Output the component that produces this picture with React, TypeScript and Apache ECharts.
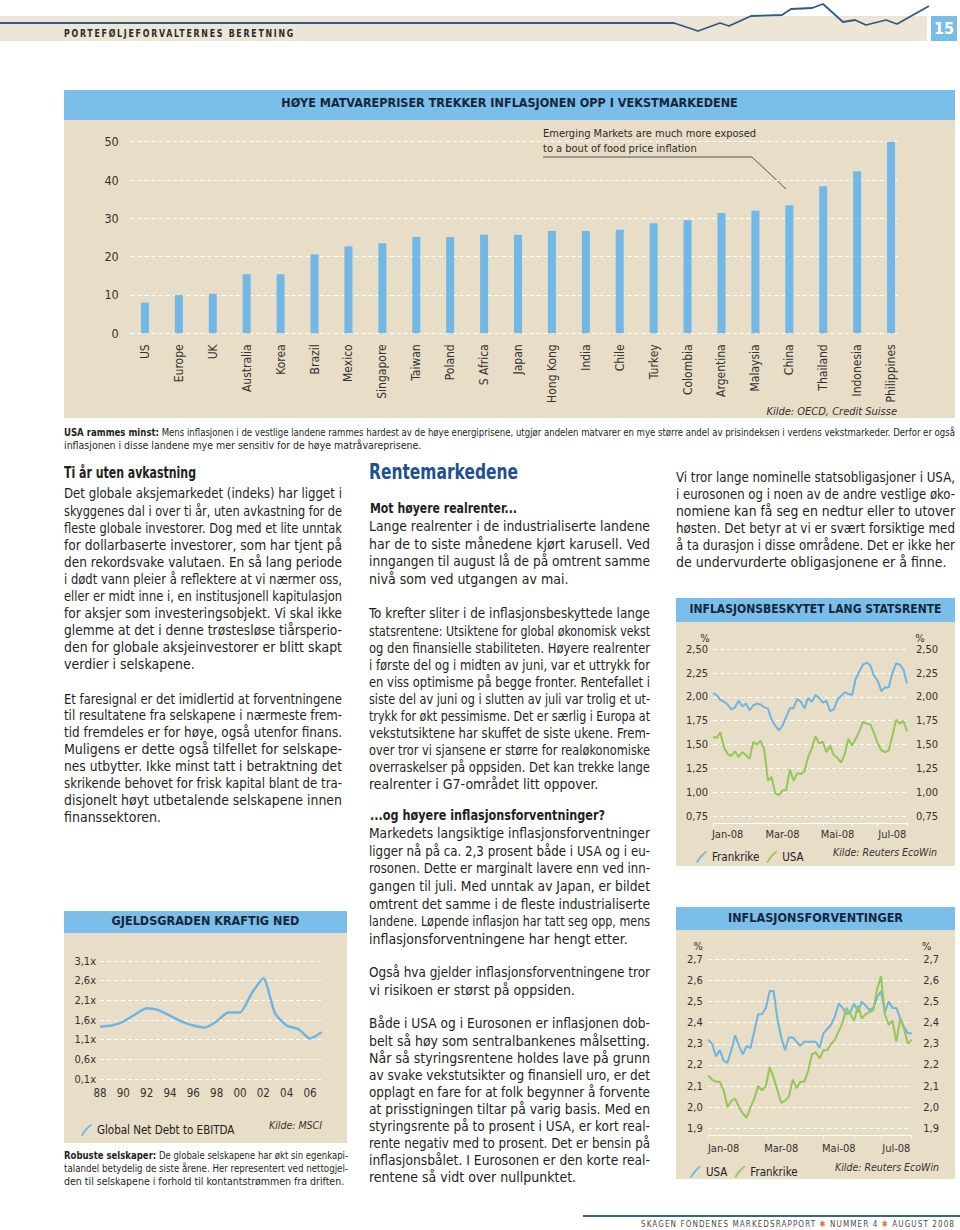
import React, { useEffect, useLayoutEffect, useRef } from "react";
import * as echarts from "echarts";

const FONT = '"Liberation Sans Narrow", "DejaVu Sans Condensed", "Open Sans", sans-serif';
const INK = "#231f20";
const BEIGE = "#E8DDC6";
const BAR_BLUE = "#7BBEE9";
const LINE_BLUE = "#6DB5E5";
const LINE_GREEN = "#93C75A";
const NAVY = "#17263a";

// ---------- data ----------
const countries = ["US", "Europe", "UK", "Australia", "Korea", "Brazil", "Mexico", "Singapore", "Taiwan", "Poland", "S Africa", "Japan", "Hong Kong", "India", "Chile", "Turkey", "Colombia", "Argentina", "Malaysia", "China", "Thailand", "Indonesia", "Philippines"];
const foodShare = [8.0, 10.0, 10.3, 15.4, 15.4, 20.6, 22.7, 23.5, 25.1, 25.1, 25.7, 25.7, 26.7, 26.7, 27.0, 28.7, 29.5, 31.4, 32.0, 33.4, 38.4, 42.3, 50.0];
const foodTicks = [0, 10, 20, 30, 40, 50];

const debtYears = ["88", "89", "90", "91", "92", "93", "94", "95", "96", "97", "98", "99", "00", "01", "02", "03", "04", "05", "06", "07"];
const debtToEbitda = [1.43, 1.46, 1.56, 1.74, 1.9, 1.85, 1.71, 1.56, 1.46, 1.41, 1.57, 1.79, 1.79, 2.28, 2.66, 1.77, 1.46, 1.37, 1.13, 1.29];

// 2008 sample dates, every 4 days from 1 Jan to 31 Jul
const sampleDates: string[] = [];
for (let k = 0; k < 54; k++) {
  const d = new Date(Date.UTC(2008, 0, 1 + k * 4));
  sampleDates.push(d.toISOString().slice(0, 10));
}
const monthLabels = ["Jan-08", "Mar-08", "Mai-08", "Jul-08"];
const monthLabelIdx = [4, 19, 34, 49];
const monthTickIdx = [0, 8, 15, 23, 30, 38, 45, 53];

const realFrance = [2.04, 2.02, 1.97, 1.95, 1.92, 1.87, 1.89, 1.96, 1.9, 1.93, 1.86, 1.91, 1.93, 1.92, 1.89, 1.88, 1.76, 1.7, 1.65, 1.7, 1.79, 1.88, 1.88, 1.98, 1.95, 1.88, 1.99, 1.95, 2.02, 1.99, 1.94, 1.96, 1.85, 1.87, 1.97, 2.01, 2.05, 2.03, 2.02, 2.19, 2.27, 2.34, 2.36, 2.33, 2.22, 2.17, 2.06, 2.1, 2.1, 2.25, 2.35, 2.34, 2.29, 2.14];
const realUSA = [1.58, 1.57, 1.63, 1.47, 1.4, 1.38, 1.43, 1.37, 1.42, 1.39, 1.35, 1.53, 1.5, 1.54, 1.45, 1.12, 1.16, 0.99, 0.97, 1.02, 1.02, 1.24, 1.12, 1.2, 1.19, 1.22, 1.37, 1.46, 1.59, 1.51, 1.53, 1.42, 1.49, 1.39, 1.36, 1.31, 1.4, 1.56, 1.49, 1.56, 1.64, 1.74, 1.72, 1.71, 1.62, 1.51, 1.44, 1.42, 1.44, 1.59, 1.76, 1.72, 1.75, 1.64];

const expUSA = [2.32, 2.3, 2.24, 2.27, 2.22, 2.21, 2.27, 2.34, 2.29, 2.25, 2.29, 2.28, 2.36, 2.44, 2.44, 2.47, 2.55, 2.55, 2.42, 2.33, 2.27, 2.33, 2.33, 2.31, 2.29, 2.31, 2.31, 2.31, 2.31, 2.28, 2.35, 2.37, 2.39, 2.43, 2.49, 2.47, 2.44, 2.45, 2.49, 2.45, 2.5, 2.48, 2.46, 2.47, 2.52, 2.55, 2.45, 2.5, 2.47, 2.47, 2.42, 2.38, 2.35, 2.35];
const expFrance = [2.15, 2.13, 2.12, 2.12, 2.08, 2.0, 2.03, 2.04, 2.0, 1.97, 1.95, 2.0, 2.04, 2.1, 2.08, 2.1, 2.19, 2.14, 2.08, 2.02, 2.03, 2.05, 2.13, 2.09, 2.12, 2.12, 2.17, 2.25, 2.26, 2.23, 2.27, 2.27, 2.3, 2.32, 2.36, 2.4, 2.47, 2.44, 2.41, 2.48, 2.42, 2.44, 2.45, 2.46, 2.56, 2.62, 2.44, 2.39, 2.41, 2.31, 2.42, 2.37, 2.3, 2.32];

// decorative header trend line (position along band, level)
const headerTrendX = [0, 674, 698, 720, 729, 751, 782, 791, 812, 823, 843, 855, 866, 886, 897, 929];
const headerTrendY = [23, 23, 31, 23, 26, 16, 15, 9, 8, 4, 22, 20, 25, 20, 24, 6];

// ---------- text ----------
const col1Title = "Ti år uten avkastning";
const col1P1 = [
  "Det globale aksjemarkedet (indeks) har ligget i",
  "skyggenes dal i over ti år, uten avkastning for de",
  "fleste globale investorer. Dog med et lite unntak",
  "for dollarbaserte investorer, som har tjent på",
  "den rekordsvake valutaen. En så lang periode",
  "i dødt vann pleier å reflektere at vi nærmer oss,",
  "eller er midt inne i, en institusjonell kapitulasjon",
  "for aksjer som investeringsobjekt. Vi skal ikke",
  "glemme at det i denne trøstesløse tiårsperio-",
  "den for globale aksjeinvestorer er blitt skapt",
  "verdier i selskapene.",
];
const col1P2 = [
  "Et faresignal er det imidlertid at forventningene",
  "til resultatene fra selskapene i nærmeste frem-",
  "tid fremdeles er for høye, også utenfor finans.",
  "Muligens er dette også tilfellet for selskape-",
  "nes utbytter. Ikke minst tatt i betraktning det",
  "skrikende behovet for frisk kapital blant de tra-",
  "disjonelt høyt utbetalende selskapene innen",
  "finanssektoren.",
];
const col2PA = [
  "Lange realrenter i de industrialiserte landene",
  "har de to siste månedene kjørt karusell. Ved",
  "inngangen til august lå de på omtrent samme",
  "nivå som ved utgangen av mai.",
];
const col2PB = [
  "To krefter sliter i de inflasjonsbeskyttede lange",
  "statsrentene: Utsiktene for global økonomisk vekst",
  "og den finansielle stabiliteten. Høyere realrenter",
  "i første del og i midten av juni, var et uttrykk for",
  "en viss optimisme på begge fronter. Rentefallet i",
  "siste del av juni og i slutten av juli var trolig et ut-",
  "trykk for økt pessimisme. Det er særlig i Europa at",
  "vekstutsiktene har skuffet de siste ukene. Frem-",
  "over tror vi sjansene er større for realøkonomiske",
  "overraskelser på oppsiden. Det kan trekke lange",
  "realrenter i G7-området litt oppover.",
];
const col2PC = [
  "Markedets langsiktige inflasjonsforventninger",
  "ligger nå på ca. 2,3 prosent både i USA og i eu-",
  "rosonen. Dette er marginalt lavere enn ved inn-",
  "gangen til juli. Med unntak av Japan, er bildet",
  "omtrent det samme i de fleste industrialiserte",
  "landene. Løpende inflasjon har tatt seg opp, mens",
  "inflasjonsforventningene har hengt etter.",
];
const col2PD = [
  "Også hva gjelder inflasjonsforventningene tror",
  "vi risikoen er størst på oppsiden.",
];
const col2PE = [
  "Både i USA og i Eurosonen er inflasjonen dob-",
  "belt så høy som sentralbankenes målsetting.",
  "Når så styringsrentene holdes lave på grunn",
  "av svake vekstutsikter og finansiell uro, er det",
  "opplagt en fare for at folk begynner å forvente",
  "at prisstigningen tiltar på varig basis. Med en",
  "styringsrente på to prosent i USA, er kort real-",
  "rente negativ med to prosent. Det er bensin på",
  "inflasjonsbålet. I Eurosonen er den korte real-",
  "rentene så vidt over nullpunktet.",
];
const col3P = [
  "Vi tror lange nominelle statsobligasjoner i USA,",
  "i eurosonen og i noen av de andre vestlige øko-",
  "nomiene kan få seg en nedtur eller to utover",
  "høsten. Det betyr at vi er svært forsiktige med",
  "å ta durasjon i disse områdene. Det er ikke her",
  "de undervurderte obligasjonene er å finne.",
];

// ---------- chart options ----------
const axisLabelStyle = { color: "#333", fontFamily: FONT };

const headerOption = {
  animation: false,
  grid: { left: 0, right: 0, top: 0, bottom: 0 },
  xAxis: { type: "value", min: 0, max: 935, show: false },
  yAxis: { type: "value", min: 0, max: 45, inverse: true, show: false },
  series: [
    {
      type: "line",
      data: headerTrendX.map((x, i) => [x, headerTrendY[i]]),
      showSymbol: false,
      lineStyle: { color: "#2E5A86", width: 1.8 },
    },
  ],
};

const mainOption = {
  animation: false,
  backgroundColor: BEIGE,
  textStyle: { fontFamily: FONT },
  title: {
    text: "HØYE MATVAREPRISER TREKKER INFLASJONEN OPP I VEKSTMARKEDENE",
    left: "center",
    top: 6,
    padding: 0,
    z: 10,
    textStyle: { fontSize: 12.5, fontWeight: "bold", color: NAVY, fontFamily: FONT },
  },
  graphic: [
    { type: "rect", z: 0, shape: { x: 0, y: 0, width: 891, height: 30 }, style: { fill: BAR_BLUE } },
    {
      type: "text",
      x: 479,
      y: 43,
      style: { text: "Emerging Markets are much more exposed", font: `11px ${FONT}`, fill: "#2b2b2b", textVerticalAlign: "middle" },
    },
    {
      type: "text",
      x: 479,
      y: 58,
      style: { text: "to a bout of food price inflation", font: `11px ${FONT}`, fill: "#2b2b2b", textVerticalAlign: "middle" },
    },
    {
      type: "polyline",
      shape: { points: [[479, 67], [688, 67], [722, 99]] },
      style: { stroke: "#333", lineWidth: 0.8, fill: null },
    },
    {
      type: "text",
      x: 833,
      y: 321,
      style: { text: "Kilde: OECD, Credit Suisse", font: `italic 11px ${FONT}`, fill: "#333", textAlign: "right", textVerticalAlign: "middle" },
    },
  ],
  grid: [
    { left: 66.7, right: 55, top: 51.7, bottom: 84.7 },
    { left: 64, right: 47, top: 51.7, bottom: 84.7 },
  ],
  xAxis: [
    { gridIndex: 0, type: "category", data: countries, show: false },
    {
      gridIndex: 1,
      type: "category",
      data: countries,
      axisLine: { show: false },
      axisTick: { show: false },
      axisLabel: { ...axisLabelStyle, rotate: 90, margin: 11, fontSize: 12, interval: 0 },
    },
  ],
  yAxis: [
    {
      gridIndex: 0,
      type: "value",
      min: foodTicks[0],
      max: foodTicks[foodTicks.length - 1],
      interval: 10,
      axisLine: { show: false },
      axisTick: { show: false },
      axisLabel: { ...axisLabelStyle, fontSize: 12.5, margin: 12 },
      splitLine: { lineStyle: { color: "#ffffff", width: 1, type: [4, 3] } },
    },
    { gridIndex: 1, type: "value", min: 0, max: 50, show: false, splitLine: { show: false } },
  ],
  series: [
    {
      type: "bar",
      xAxisIndex: 1,
      yAxisIndex: 1,
      data: foodShare,
      barWidth: 8,
      itemStyle: { color: "#72B8E7" },
    },
  ],
};

const SWOOSH = "path://M1,21 C5,13 11,6 19,0 L21,2 C14,8 8,15 4,22 Z";

function lineChartOption(cfg: any) {
  return {
    animation: false,
    backgroundColor: BEIGE,
    textStyle: { fontFamily: FONT },
    title: {
      text: cfg.title,
      left: "center",
      top: cfg.titleTop,
      padding: 0,
      z: 10,
      textStyle: { fontSize: cfg.titleSize, fontWeight: "bold", color: NAVY, fontFamily: FONT },
    },
    graphic: [
      { type: "rect", z: 0, shape: { x: 0, y: 0, width: cfg.width, height: cfg.barH }, style: { fill: BAR_BLUE } },
      ...(cfg.pct || []).map((p: number[]) => ({
        type: "text",
        x: p[0],
        y: p[1],
        style: { text: "%", font: `11px ${FONT}`, fill: "#333", textAlign: "center", textVerticalAlign: "middle" },
      })),
      {
        type: "text",
        x: cfg.kildeX,
        y: cfg.legendY,
        style: { text: cfg.kilde, font: `italic 10.5px ${FONT}`, fill: "#333", textAlign: "right", textVerticalAlign: "middle" },
      },
    ],
    legend: {
      left: cfg.legendLeft,
      top: cfg.legendY - 6,
      icon: SWOOSH,
      itemWidth: 11,
      itemHeight: 12,
      itemGap: 7,
      textStyle: { fontSize: 11.5, color: "#222", fontFamily: FONT },
      data: cfg.series.map((s: any) => s.name),
    },
    grid: cfg.grid,
    xAxis: cfg.xAxis,
    yAxis: cfg.yAxis,
    series: cfg.series.map((s: any) => ({
      name: s.name,
      type: "line",
      data: s.data,
      showSymbol: false,
      smooth: s.smooth || false,
      lineStyle: { color: s.color, width: s.width || 2 },
      itemStyle: { color: s.color },
    })),
  };
}

function monthAxis(offset: number, margin: number) {
  return {
    type: "category",
    data: sampleDates,
    boundaryGap: false,
    offset,
    axisLine: { lineStyle: { color: "#ffffff", width: 1 } },
    axisTick: { show: true, length: 3, interval: (i: number) => monthTickIdx.includes(i), lineStyle: { color: "#ffffff" } },
    axisLabel: {
      ...axisLabelStyle,
      fontSize: 11,
      margin,
      interval: (i: number) => monthLabelIdx.includes(i),
      formatter: (_v: string, i: number) => {
        const j = monthLabelIdx.indexOf(i);
        return j >= 0 ? monthLabels[j] : "";
      },
    },
    splitLine: { show: false },
  };
}

function valueAxes(min: number, max: number, interval: number, digits: number, lm: number, rm: number) {
  const fmt = (v: number) => v.toFixed(digits).replace(".", ",");
  const base = {
    type: "value",
    min,
    max,
    interval,
    axisLine: { show: false },
    axisTick: { show: false },
  };
  return [
    {
      ...base,
      position: "left",
      axisLabel: { ...axisLabelStyle, fontSize: 11, margin: lm, formatter: fmt },
      splitLine: { lineStyle: { color: "#ffffff", width: 1, type: [4, 3] } },
    },
    {
      ...base,
      position: "right",
      axisLabel: { ...axisLabelStyle, fontSize: 11, margin: rm, formatter: fmt },
      splitLine: { show: false },
    },
  ];
}

const realRateOption = lineChartOption({
  title: "INFLASJONSBESKYTET LANG STATSRENTE",
  titleTop: 5,
  titleSize: 12,
  width: 279,
  barH: 24,
  pct: [[29, 40], [244, 40]],
  kilde: "Kilde: Reuters EcoWin",
  kildeX: 261,
  legendY: 254,
  legendLeft: 15,
  grid: { left: 37, right: 48, top: 51.3, bottom: 50 },
  xAxis: monthAxis(7.3, 6),
  yAxis: valueAxes(0.75, 2.5, 0.25, 2, 5, 9),
  series: [
    { name: "Frankrike", data: realFrance, color: LINE_BLUE },
    { name: "USA", data: realUSA, color: LINE_GREEN },
  ],
});

const expectOption = lineChartOption({
  title: "INFLASJONSFORVENTINGER",
  titleTop: 4,
  titleSize: 12.5,
  width: 279,
  barH: 23,
  pct: [[22.3, 39.7], [250.7, 39.7]],
  kilde: "Kilde: Reuters EcoWin",
  kildeX: 263,
  legendY: 259.7,
  legendLeft: 9,
  grid: { left: 32.3, right: 43.3, top: 52.3, bottom: 50.7 },
  xAxis: monthAxis(7.4, 7),
  yAxis: valueAxes(1.9, 2.7, 0.1, 1, 5.6, 11.6),
  series: [
    { name: "USA", data: expUSA, color: LINE_BLUE },
    { name: "Frankrike", data: expFrance, color: LINE_GREEN },
  ],
});

const debtOption = lineChartOption({
  title: "GJELDSGRADEN KRAFTIG NED",
  titleTop: 3,
  titleSize: 12.5,
  width: 283,
  barH: 22,
  pct: [],
  kilde: "Kilde: MSCI",
  kildeX: 258,
  legendY: 214,
  legendLeft: 12,
  grid: { left: 36, right: 25.3, top: 50, bottom: 64 },
  xAxis: {
    type: "category",
    data: debtYears,
    boundaryGap: false,
    axisLine: { show: false },
    axisTick: { show: false },
    axisLabel: { ...axisLabelStyle, fontSize: 11.5, margin: 8, interval: 1 },
    splitLine: { show: false },
  },
  yAxis: {
    type: "value",
    min: 0,
    max: 3,
    interval: 0.5,
    axisLine: { show: false },
    axisTick: { show: false },
    axisLabel: { ...axisLabelStyle, fontSize: 11, margin: 4, formatter: (v: number) => (v + 0.1).toFixed(1).replace(".", ",") + "x" },
    splitLine: { lineStyle: { color: "#ffffff", width: 1, type: [4, 3] } },
  },
  series: [{ name: "Global Net Debt to EBITDA", data: debtToEbitda.map((v) => +(v - 0.1).toFixed(3)), color: LINE_BLUE, width: 2.5, smooth: 0.2 }],
});

// ---------- components ----------
function Chart({ option, left, top, width, height }: any) {
  const ref = useRef<HTMLDivElement>(null);
  useEffect(() => {
    const c = echarts.init(ref.current!, null, { renderer: "svg" });
    c.setOption(option);
    return () => c.dispose();
  }, []);
  return <div ref={ref} style={{ position: "absolute", left, top, width, height }} />;
}

function fitLines() {
  document.querySelectorAll<HTMLElement>("[data-fit]").forEach((el) => {
    const span = el.firstElementChild as HTMLElement;
    if (!span) return;
    span.style.wordSpacing = "0px";
    span.style.transform = "none";
    const W = parseFloat(el.dataset.w || "0");
    const mode = el.dataset.fit;
    const nat = span.getBoundingClientRect().width;
    if (!nat) return;
    if (mode === "f" || nat > W) {
      span.style.transform = `scaleX(${W / nat})`;
    } else if (mode === "j") {
      const spaces = ((span.textContent || "").match(/ /g) || []).length;
      if (spaces) span.style.wordSpacing = `${(W - nat) / spaces}px`;
    }
  });
}

function Line({ x, y, w, h = 17, size = 14, mode = "l", weight = 400, color = INK, italic = false, spacing = 0, children }: any) {
  return (
    <div
      data-fit={mode}
      data-w={w}
      style={{
        position: "absolute",
        left: x,
        top: y - h / 2,
        width: w,
        height: h,
        lineHeight: `${h}px`,
        fontSize: size,
        fontWeight: weight,
        fontStyle: italic ? "italic" : "normal",
        letterSpacing: spacing,
        color,
        whiteSpace: "pre",
      }}
    >
      <span style={{ display: "inline-block", whiteSpace: "pre", transformOrigin: "0 50%" }}>{children}</span>
    </div>
  );
}

function Para({ x, y, w, step, lines, size = 14 }: any) {
  return (
    <>
      {lines.map((t: string, i: number) => (
        <Line key={i} x={x} y={y + i * step} w={w} h={step} size={size} mode={i < lines.length - 1 ? "j" : "l"}>
          {t}
        </Line>
      ))}
    </>
  );
}

export default function App() {
  useLayoutEffect(() => {
    fitLines();
    const fonts: any = (document as any).fonts;
    if (fonts && fonts.ready) fonts.ready.then(fitLines);
    const t = setTimeout(fitLines, 250);
    return () => clearTimeout(t);
  }, []);

  return (
    <div style={{ position: "absolute", left: 0, top: 0, width: 960, height: 1230, background: "#fff", overflow: "hidden", fontFamily: FONT, color: INK }}>
      {/* header */}
      <div style={{ position: "absolute", left: 0, top: 16, width: 927, height: 25, background: "#EDE6D6" }} />
      <Chart option={headerOption} left={0} top={0} width={935} height={45} />
      <Line x={64} y={34} w={231} h={14} size={10} weight={700} spacing={2} mode="f" color="#2a2a2a">
        PORTEFØLJEFORVALTERNES BERETNING
      </Line>
      <div style={{ position: "absolute", left: 931, top: 16, width: 26, height: 25, background: "#78BCE8", color: "#fff", fontWeight: 700, fontSize: 16, lineHeight: "25px", textAlign: "center" }}>15</div>

      {/* main chart */}
      <Chart option={mainOption} left={64} top={90} width={891} height={328} />
      <Line x={64} y={432} w={891} h={13} size={10.5} mode="j">
        <b>USA rammes minst:</b> Mens inflasjonen i de vestlige landene rammes hardest av de høye energiprisene, utgjør andelen matvarer en mye større andel av prisindeksen i verdens vekstmarkeder. Derfor er også
      </Line>
      <Line x={64} y={445} w={891} h={13} size={10.5} mode="l">
        inflasjonen i disse landene mye mer sensitiv for de høye matråvareprisene.
      </Line>

      {/* column 1 */}
      <Line x={64} y={473} w={132} h={18} size={15} weight={700} mode="f">{col1Title}</Line>
      <Para x={64} y={494} w={278} step={17.05} lines={col1P1} />
      <Para x={64} y={699} w={278} step={16.9} lines={col1P2} />

      <Chart option={debtOption} left={64} top={911} width={283} height={232} />
      <Line x={64} y={1155} w={284} h={13} size={10.5} mode="j">
        <b>Robuste selskaper:</b> De globale selskapene har økt sin egenkapi-
      </Line>
      <Line x={64} y={1168} w={284} h={13} size={10.5} mode="j">
        talandel betydelig de siste årene. Her representert ved nettogjel-
      </Line>
      <Line x={64} y={1181} w={284} h={13} size={10.5} mode="l">
        den til selskapene i forhold til kontantstrømmen fra driften.
      </Line>

      {/* column 2 */}
      <Line x={369} y={472} w={149} h={26} size={21} weight={700} mode="f" color="#1D5190">Rentemarkedene</Line>
      <Line x={370} y={508} w={147} h={18} size={14.5} weight={700} mode="f">Mot høyere realrenter...</Line>
      <Para x={369} y={527} w={281} step={17.5} lines={col2PA} />
      <Para x={369} y={614} w={281} step={17.1} lines={col2PB} />
      <Line x={370} y={815} w={235} h={18} size={14.5} weight={700} mode="f">...og høyere inflasjonsforventninger?</Line>
      <Para x={369} y={834} w={281} step={17.6} lines={col2PC} />
      <Para x={369} y={973} w={281} step={17.5} lines={col2PD} />
      <Para x={369} y={1024} w={281} step={17.1} lines={col2PE} />

      {/* column 3 */}
      <Para x={676} y={477} w={279} step={17} lines={col3P} />
      <Chart option={realRateOption} left={676} top={598} width={279} height={268} />
      <Chart option={expectOption} left={676} top={907} width={279} height={272} />

      {/* footer */}
      <div style={{ position: "absolute", left: 583, top: 1215, width: 377, height: 1.5, background: "#3D6286" }} />
      <Line x={641} y={1224} w={314} h={12} size={9} spacing={1.2} mode="f" color="#4a4a4a">
        SKAGEN FONDENES MARKEDSRAPPORT <span style={{ color: "#E07B2E" }}>✱</span> NUMMER 4 <span style={{ color: "#E07B2E" }}>✱</span> AUGUST 2008
      </Line>
    </div>
  );
}
